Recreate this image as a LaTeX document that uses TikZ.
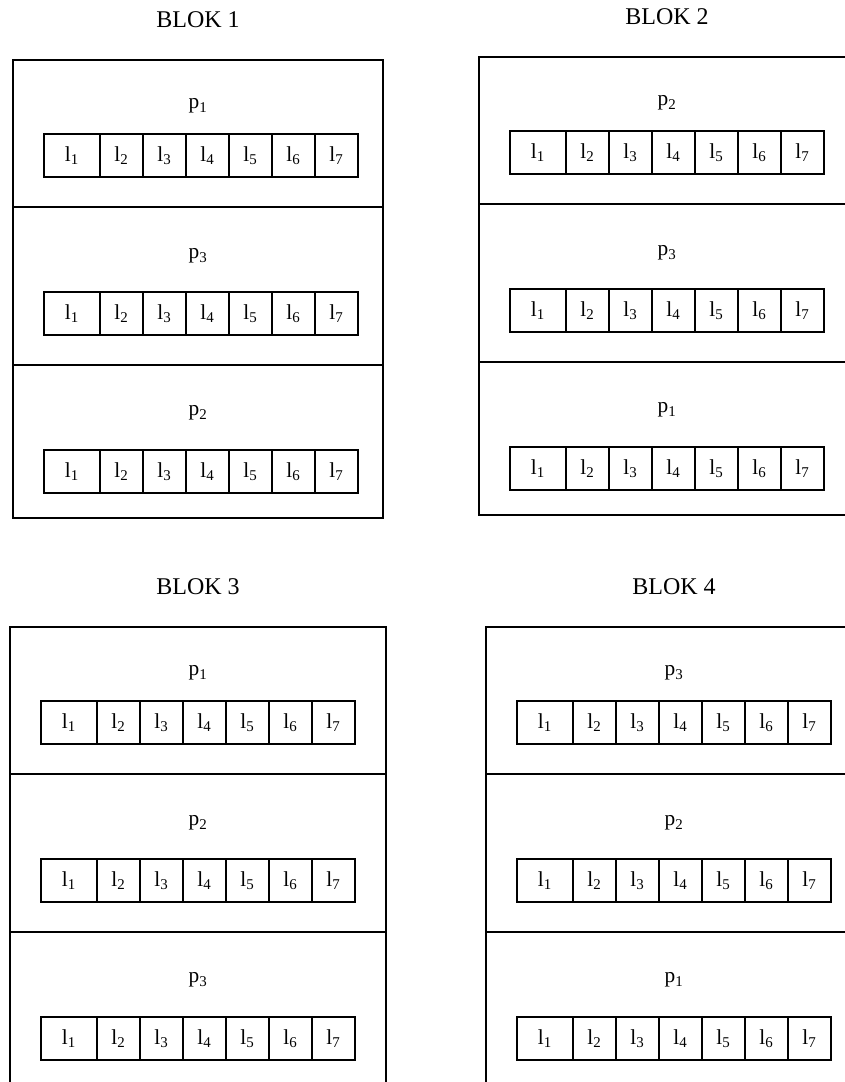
\documentclass[tikz,border=0pt]{standalone}
\usepackage{fontspec}
\setmainfont{Liberation Serif}
\usepackage{tikz}
\usetikzlibrary{positioning}

\begin{document}
\begin{tikzpicture}[
    x=0.75pt, y=-0.75pt,
    blok/.style={draw, line width=0.8pt},
    cell/.style={draw, line width=0.8pt, inner sep=0pt, outer sep=0pt,
      minimum width=32.25pt, minimum height=32.25pt, font=\fontsize{16}{19}\selectfont},
    firstcell/.style={cell, minimum width=42pt},
    plabel/.style={font=\fontsize{16}{19}\selectfont},
    bloktitle/.style={font=\fontsize{18}{22}\selectfont},
  ]
    \clip (0,0) rectangle (845,1082);
    % blocks: number / left / top / width / order of p
    \foreach \b/\bx/\by/\bw/\pa/\pb/\pc in {1/13/60/370/1/3/2, 2/479/57/376/2/3/1,
        3/10/627/376/1/2/3, 4/486/627/376/3/2/1} {
      \node[bloktitle] (b\b-title) at (\bx+\bw/2, \by-40) {BLOK \b};
      % frame and dividers
      \draw[blok] (\bx,\by) rectangle ++(\bw,458);
      \draw[blok] (\bx,\by+147) -- ++(\bw,0);
      \draw[blok] (\bx,\by+305) -- ++(\bw,0);
      % rows: p label and cells l1..l7
      \foreach \r/\p/\ptop/\ctop in {1/\pa/46/74, 2/\pb/196/232, 3/\pc/353/390} {
        \node[plabel] (b\b-p\r) at (\bx+\bw/2, \by+\ptop) {p\textsubscript{\p}};
        \node[firstcell, anchor=north west] (b\b-r\r-c1) at (\bx+31, \by+\ctop) {l\textsubscript{1}};
        \foreach \c [remember=\c as \lastc (initially 1)] in {2,...,7}
          \node[cell, right=0pt of b\b-r\r-c\lastc] (b\b-r\r-c\c) {l\textsubscript{\c}};
      }
    }
  \end{tikzpicture}
\end{document}
